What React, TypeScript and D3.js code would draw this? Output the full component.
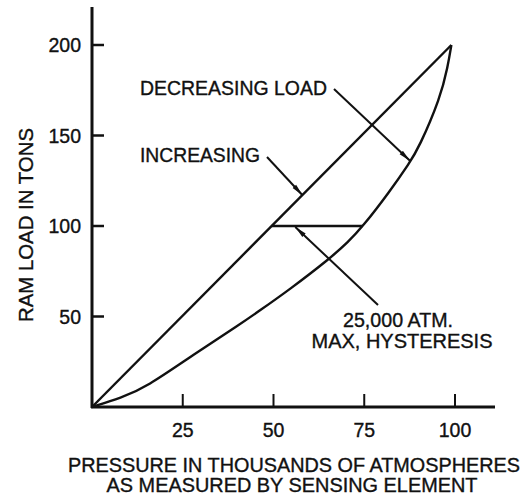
import React from "react";
import * as d3 from "d3";

// Curve passing under (labelled "DECREASING LOAD" in the source)
const lowerP = [0, 8, 15, 28, 41, 46, 54.5, 65.5, 70.5, 74.5, 82, 87.5, 90, 96, 98, 99];
const lowerLoad = [0, 5, 11, 29, 46, 53, 65, 82, 91, 99.5, 119, 135, 143, 171, 188, 200];
// Straight upper line (labelled "INCREASING")
const upperP = [0, 99];
const upperLoad = [0, 200];
// Max hysteresis segment
const hystP = [49.5, 74.5];
const hystLoad = [100, 100];

const xTicks = [25, 50, 75, 100];
const yTicks = [50, 100, 150, 200];

const W = 526;
const H = 499;
const FONT = "'Liberation Sans', Arial, Helvetica, sans-serif";

export default function App() {
  const x = d3.scaleLinear().domain([0, 100]).range([92, 455]);
  const y = d3.scaleLinear().domain([0, 200]).range([407, 45]);

  const line = d3
    .line<[number, number]>()
    .x((d) => x(d[0]))
    .y((d) => y(d[1]));
  const curve = d3
    .line<[number, number]>()
    .x((d) => x(d[0]))
    .y((d) => y(d[1]))
    .curve(d3.curveBasis);

  const lowerPts = lowerP.map((p, i) => [p, lowerLoad[i]] as [number, number]);
  const upperPts = upperP.map((p, i) => [p, upperLoad[i]] as [number, number]);
  const hystPts = hystP.map((p, i) => [p, hystLoad[i]] as [number, number]);

  const x0 = x(0);
  const y0 = y(0);

  // arrow tips (data coords)
  const tipDec: [number, number] = [87.6, 136];
  const tipInc: [number, number] = [58, 117];
  const tipHyst: [number, number] = [56, 100];

  const textStyle: React.CSSProperties = {
    fontFamily: FONT,
    fontSize: 19.5,
    fill: "#111",
    stroke: "#111",
    strokeWidth: 0.35,
  };

  return (
    <svg
      width={W}
      height={H}
      style={{ position: "absolute", left: 0, top: 0, background: "#fff" }}
    >
      <defs>
        <marker
          id="arr"
          viewBox="0 0 12 6"
          refX={12}
          refY={3}
          markerWidth={12}
          markerHeight={6}
          markerUnits="userSpaceOnUse"
          orient="auto"
        >
          <path d="M0,0.6 L12,3 L0,5.4 Z" fill="#111" />
        </marker>
      </defs>

      {/* axes */}
      <line x1={x0} y1={y0 + 1} x2={x0} y2={7} stroke="#111" strokeWidth={3} />
      <line x1={x0 - 1} y1={y0} x2={495} y2={y0} stroke="#111" strokeWidth={3} />

      {yTicks.map((t) => (
        <g key={"yt" + t}>
          <line x1={x0} x2={x0 + 12} y1={y(t)} y2={y(t)} stroke="#111" strokeWidth={2.5} />
          <text
            x={81}
            y={y(t)}
            dy="0.36em"
            textAnchor="end"
            style={textStyle}
          >
            {t}
          </text>
        </g>
      ))}
      {xTicks.map((t) => (
        <g key={"xt" + t}>
          <line x1={x(t)} x2={x(t)} y1={y0} y2={y0 - 13} stroke="#111" strokeWidth={2} />
          <text x={x(t)} y={437} textAnchor="middle" style={textStyle}>
            {t}
          </text>
        </g>
      ))}

      {/* axis titles */}
      <text
        x={294}
        y={472}
        textAnchor="middle"
        style={textStyle}
        textLength={452}
        lengthAdjust="spacingAndGlyphs"
      >
        PRESSURE IN THOUSANDS OF ATMOSPHERES
      </text>
      <text
        x={292}
        y={492}
        textAnchor="middle"
        style={textStyle}
        textLength={371}
        lengthAdjust="spacingAndGlyphs"
      >
        AS MEASURED BY SENSING ELEMENT
      </text>
      <text
        transform={`translate(33,225) rotate(-90)`}
        textAnchor="middle"
        style={textStyle}
        textLength={194}
        lengthAdjust="spacingAndGlyphs"
      >
        RAM LOAD IN TONS
      </text>

      {/* curves */}
      <path d={line(upperPts) || ""} fill="none" stroke="#111" strokeWidth={2.4} />
      <path d={curve(lowerPts) || ""} fill="none" stroke="#111" strokeWidth={2.4} />
      <path d={line(hystPts) || ""} fill="none" stroke="#111" strokeWidth={2.4} />

      {/* annotations */}
      <text x={140} y={95} style={textStyle} textLength={187} lengthAdjust="spacingAndGlyphs">
        DECREASING LOAD
      </text>
      <line
        x1={334}
        y1={89}
        x2={x(tipDec[0])}
        y2={y(tipDec[1])}
        stroke="#111"
        strokeWidth={2}
        markerEnd="url(#arr)"
      />
      <text x={140} y={162} style={textStyle} textLength={120} lengthAdjust="spacingAndGlyphs">
        INCREASING
      </text>
      <line
        x1={267}
        y1={157}
        x2={x(tipInc[0])}
        y2={y(tipInc[1])}
        stroke="#111"
        strokeWidth={2}
        markerEnd="url(#arr)"
      />
      <line
        x1={378}
        y1={305}
        x2={x(tipHyst[0])}
        y2={y(tipHyst[1]) + 1}
        stroke="#111"
        strokeWidth={2}
        markerEnd="url(#arr)"
      />
      <text x={398} y={327} textAnchor="middle" style={textStyle} textLength={110} lengthAdjust="spacingAndGlyphs">
        25,000 ATM.
      </text>
      <text x={402} y={348} textAnchor="middle" style={textStyle} textLength={181} lengthAdjust="spacingAndGlyphs">
        MAX, HYSTERESIS
      </text>
    </svg>
  );
}
